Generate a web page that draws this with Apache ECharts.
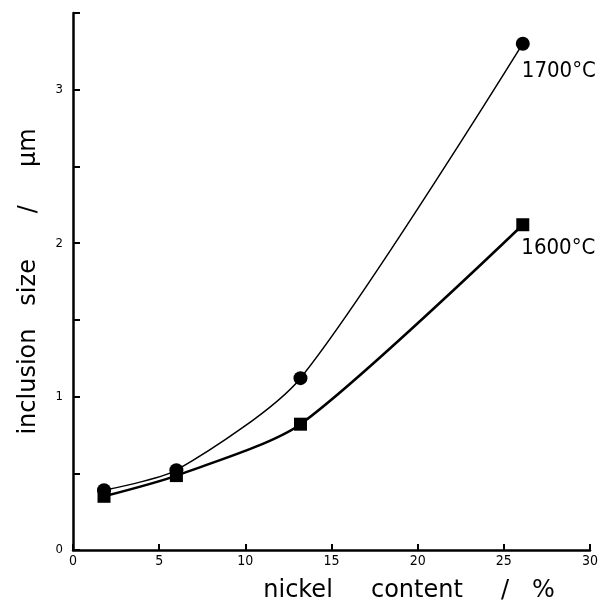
<!DOCTYPE html>
<html><head><meta charset="utf-8">
<script src="https://cdn.jsdelivr.net/npm/echarts@6/dist/echarts.min.js"></script>
<style>html,body{margin:0;padding:0;background:#fff}#c{width:600px;height:600px}</style>
</head><body><div id="c"></div>
<script>
const nickel1700 = [1.8, 6.0, 13.2, 26.1];
const size1700 = [0.39, 0.52, 1.12, 3.30];
const nickel1600 = [1.8, 6.0, 13.2, 26.1];
const size1600 = [0.35, 0.485, 0.82, 2.12];
const seriesNames = ['1700°C', '1600°C'];
const xTicks = [0, 5, 10, 15, 20, 25, 30];
const yTicks = [0, 1, 2, 3];

const numFont = '"DejaVu Sans Condensed", sans-serif';
const titleFont = '"DejaVu Sans", sans-serif';

function pairs(xs, ys, name, off) {
  return xs.map((x, i) => {
    const d = { value: [x, ys[i]] };
    if (i === xs.length - 1) {
      d.label = { show: true, formatter: name, position: off, align: 'left', verticalAlign: 'top',
        color: '#000', fontSize: 22, fontFamily: numFont };
    }
    return d;
  });
}

const chart = echarts.init(document.getElementById('c'), null, { renderer: 'canvas' });
chart.setOption({
  animation: false,
  backgroundColor: '#fff',
  grid: { left: 73, right: 10, top: 13, bottom: 50, containLabel: false, outerBoundsMode: 'none' },
  xAxis: {
    type: 'value', min: 0, max: 30, interval: 5,
    name: 'nickel     content     /   %', nameLocation: 'middle', nameGap: 29,
    nameTextStyle: { color: '#000', fontSize: 24, fontFamily: titleFont, padding: [0, 0, 0, 155] },
    axisLine: { lineStyle: { color: '#000', width: 2.5 } },
    axisTick: { inside: true, length: 6, lineStyle: { color: '#000', width: 2 } },
    axisLabel: { color: '#000', fontSize: 14, fontFamily: numFont, margin: 4,
      formatter: v => xTicks.includes(v) ? String(v) : '' },
    splitLine: { show: false }
  },
  yAxis: {
    type: 'value', min: 0, max: 3.5, interval: 0.5,
    name: 'inclusion   size      /     μm', nameLocation: 'middle', nameGap: 32,
    nameTextStyle: { color: '#000', fontSize: 24, fontFamily: titleFont },
    axisLine: { lineStyle: { color: '#000', width: 2.5 } },
    axisTick: { inside: true, length: 7, lineStyle: { color: '#000', width: 2 } },
    axisLabel: { color: '#000', fontSize: 13, fontFamily: numFont, margin: 10,
      formatter: v => yTicks.includes(v) ? String(v) : '' },
    splitLine: { show: false }
  },
  series: [
    { name: seriesNames[0], type: 'line', smooth: 0.25,
      data: pairs(nickel1700, size1700, seriesNames[0], [6, 24]),
      symbol: 'circle', symbolSize: 14,
      lineStyle: { color: '#000', width: 1.5 }, itemStyle: { color: '#000' } },
    { name: seriesNames[1], type: 'line', smooth: 0.25,
      data: pairs(nickel1600, size1600, seriesNames[1], [5, 19]),
      symbol: 'rect', symbolSize: 13,
      lineStyle: { color: '#000', width: 2.5 }, itemStyle: { color: '#000' } }
  ]
});
</script></body></html>
